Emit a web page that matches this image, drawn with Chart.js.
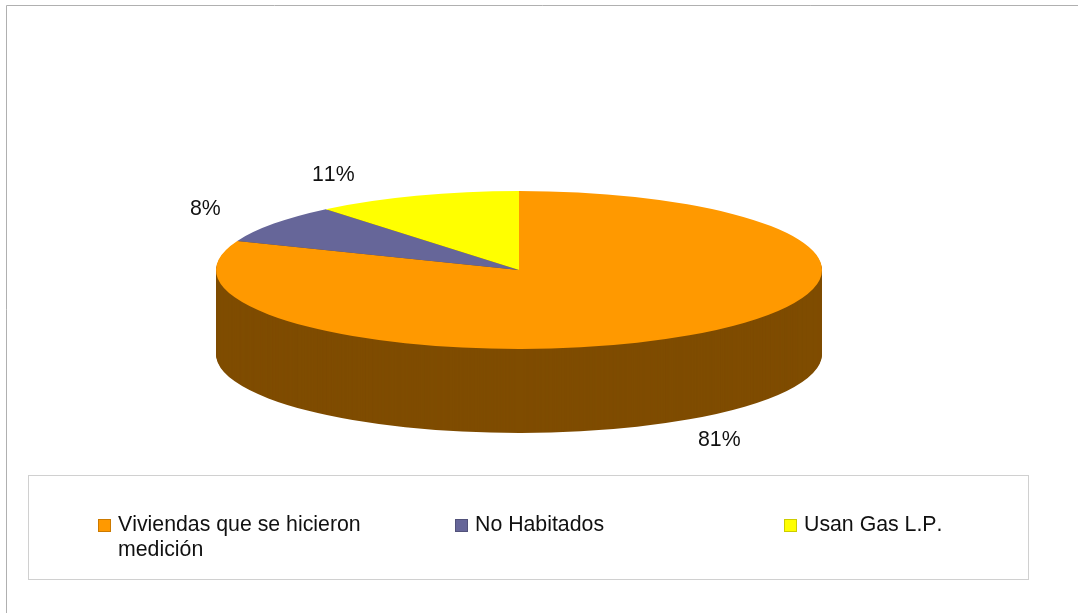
<!DOCTYPE html>
<html>
<head>
<meta charset="utf-8">
<style>
  html, body { margin: 0; padding: 0; background: #fff; overflow: hidden; }
  canvas { display: block; }
</style>
<script src="https://cdn.jsdelivr.net/npm/chart.js@4"></script>
</head>
<body>
<canvas id="chart" width="1078" height="613"></canvas>
<script>
const categories = ["Viviendas que se hicieron medición", "No Habitados", "Usan Gas L.P."];
const values = [81, 8, 11];
const colors = ["#ff9900", "#666699", "#ffff00"];
const markerBorders = ["#cc7a00", "#52527a", "#cccc00"];
const sideColor = "#7f4c00";

const FONT = '21.3px "Liberation Sans", Arial, sans-serif';

// ellipse of the top face, the pie is drawn squashed to fake the 3D look
const pie = { cx: 519, cy: 270, rx: 303, ry: 79, depth: 84 };

const valueLabelPos = [
  { x: 698, y: 446 },
  { x: 190, y: 215 },
  { x: 312, y: 181 },
];
const legendPos = [
  { x: 98, maxWidth: 260 },
  { x: 455, maxWidth: 300 },
  { x: 784, maxWidth: 220 },
];

function applyPieTransform(ctx, arc, offset) {
  ctx.translate(pie.cx, pie.cy + offset);
  ctx.scale(pie.rx / arc.outerRadius, pie.ry / arc.outerRadius);
  ctx.translate(-arc.x, -arc.y);
}

function wrapText(ctx, text, maxWidth) {
  const lines = [];
  let line = "";
  text.split(" ").forEach((word) => {
    const next = line ? line + " " + word : word;
    if (line && ctx.measureText(next).width > maxWidth) {
      lines.push(line);
      line = word;
    } else {
      line = next;
    }
  });
  lines.push(line);
  return lines;
}

const pie3d = {
  id: "pie3d",
  beforeDraw(chart) {
    const ctx = chart.ctx;
    ctx.save();
    ctx.fillStyle = "#fff";
    ctx.fillRect(0, 0, chart.width, chart.height);
    // outer frame, only top and left are visible
    ctx.strokeStyle = "#b0b0b0";
    ctx.lineWidth = 1;
    ctx.beginPath();
    ctx.moveTo(6.5, chart.height);
    ctx.lineTo(6.5, 5.5);
    ctx.lineTo(chart.width, 5.5);
    ctx.stroke();
    ctx.restore();
  },
  // side wall first, then the top face with the same transform
  beforeDatasetDraw(chart, args) {
    const ctx = chart.ctx;
    const arcs = args.meta.data;
    for (let i = pie.depth; i > 0; i--) {
      arcs.forEach((arc) => {
        const saved = arc.options;
        arc.options = Object.assign({}, saved, { backgroundColor: sideColor, borderColor: sideColor });
        ctx.save();
        applyPieTransform(ctx, arc, i);
        arc.draw(ctx);
        ctx.restore();
        arc.options = saved;
      });
    }
    ctx.save();
    applyPieTransform(ctx, arcs[0], 0);
  },
  afterDatasetDraw(chart) {
    chart.ctx.restore();
  },
  afterDraw(chart) {
    const ctx = chart.ctx;
    ctx.save();
    ctx.font = FONT;
    ctx.fontKerning = "none";
    ctx.textBaseline = "alphabetic";
    ctx.textAlign = "left";

    ctx.fillStyle = "#111";
    values.forEach((v, i) => {
      ctx.fillText(v + "%", valueLabelPos[i].x, valueLabelPos[i].y);
    });

    // legend box
    ctx.strokeStyle = "#d0d0d0";
    ctx.lineWidth = 1;
    ctx.strokeRect(28.5, 475.5, 1000, 104);

    categories.forEach((name, i) => {
      const pos = legendPos[i];
      ctx.fillStyle = colors[i];
      ctx.fillRect(pos.x, 519, 13, 13);
      ctx.strokeStyle = markerBorders[i];
      ctx.strokeRect(pos.x + 0.5, 519.5, 12, 12);
      ctx.fillStyle = "#111";
      wrapText(ctx, name, pos.maxWidth).forEach((line, n) => {
        ctx.fillText(line, pos.x + 20, 531 + n * 25);
      });
    });
    ctx.restore();
  },
};

new Chart(document.getElementById("chart"), {
  type: "pie",
  data: {
    labels: categories,
    datasets: [{
      data: values,
      backgroundColor: colors,
      borderWidth: 0,
    }],
  },
  options: {
    responsive: false,
    animation: false,
    devicePixelRatio: 1,
    plugins: {
      legend: { display: false },
      tooltip: { enabled: false },
    },
  },
  plugins: [pie3d],
});
</script>
</body>
</html>
